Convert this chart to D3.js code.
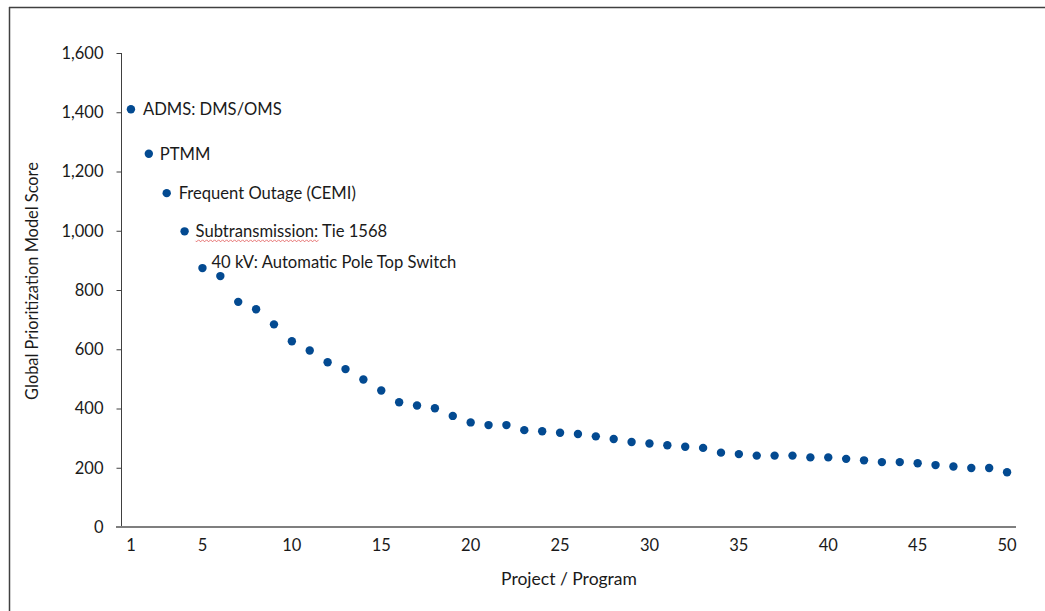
<!DOCTYPE html>
<html>
<head>
<meta charset="utf-8">
<script src="https://cdn.jsdelivr.net/npm/d3@7"></script>
<style>
  html, body { margin: 0; padding: 0; background: #fff; }
  svg { display: block; font-family: Lato, "Open Sans", sans-serif; }
</style>
</head>
<body>
<svg id="chart" width="1045" height="611"></svg>
<script>
// ---- data ----
const projects = d3.range(1, 51);
const scores = [1410, 1260, 1127, 998, 874, 847, 760, 735, 684, 627,
                596, 556, 533, 498, 461, 421, 410, 401, 375, 353,
                344, 344, 327, 323, 318, 314, 306, 297, 287, 282,
                276, 271, 267, 251, 246, 241, 241, 241, 235, 235,
                230, 225, 219, 219, 215, 209, 204, 199, 199, 185];
const xTickLabels = [1, 5, 10, 15, 20, 25, 30, 35, 40, 45, 50];
const yTickValues = [0, 200, 400, 600, 800, 1000, 1200, 1400, 1600];
const labelProjects = [1, 2, 3, 4, 5];
const labelTexts = ["ADMS: DMS/OMS", "PTMM", "Frequent Outage (CEMI)", "Subtransmission: Tie 1568", "40 kV: Automatic Pole Top Switch"];

// ---- layout ----
const svg = d3.select("#chart");
const mLeft = 121, mRight = 1016, mTop = 53, mBottom = 527;
const dotColor = "#034a91";
const textColor = "#1a1a1a";
const labelDx = [12, 11, 12, 11, 9];

// outer border (top + left only visible)
svg.append("line").attr("x1", 9).attr("x2", 1045).attr("y1", 7.5).attr("y2", 7.5)
  .attr("stroke", "#404040").attr("stroke-width", 1.5);
svg.append("line").attr("x1", 9.5).attr("x2", 9.5).attr("y1", 7).attr("y2", 611)
  .attr("stroke", "#404040").attr("stroke-width", 1.5);

const x = d3.scaleBand().domain(projects).range([mLeft + 1, mRight]);
const y = d3.scaleLinear().domain([0, 1600]).range([mBottom, mTop]);
const cx = d => x(d) + x.bandwidth() / 2;

// y axis
const yAxis = svg.append("g").attr("transform", `translate(${mLeft + 0.5},0)`)
  .call(d3.axisLeft(y).tickValues(yTickValues).tickSize(5).tickPadding(13)
    .tickFormat(d3.format(",")));
yAxis.select(".domain").attr("stroke", "#404040").attr("d", `M0,${mTop}V${mBottom}`);
yAxis.selectAll(".tick line").attr("stroke", "#404040");
yAxis.selectAll(".tick text").attr("font-size", 16.5).attr("fill", textColor)
  .attr("font-family", "Lato, sans-serif");

// x axis
const xAxis = svg.append("g").attr("transform", `translate(0,${mBottom})`)
  .call(d3.axisBottom(x).tickValues(xTickLabels).tickSize(0).tickPadding(12));
xAxis.select(".domain").attr("stroke", "#7f7f7f").attr("stroke-width", 2)
  .attr("d", `M${mLeft - 5},0H${mRight}`);
xAxis.selectAll(".tick text").attr("font-size", 16.5).attr("fill", textColor)
  .attr("font-family", "Lato, sans-serif");

// axis titles
svg.append("text").attr("x", 569).attr("y", 585).attr("text-anchor", "middle")
  .attr("font-size", 17.5).attr("fill", textColor).text("Project / Program");
svg.append("text").attr("transform", `translate(38,281) rotate(-90)`)
  .attr("text-anchor", "middle").attr("font-size", 16.4).attr("fill", textColor)
  .text("Global Prioritization Model Score");

// dots
svg.append("g").selectAll("circle").data(projects).join("circle")
  .attr("cx", d => cx(d)).attr("cy", (d, i) => y(scores[i]))
  .attr("r", 4.2).attr("fill", dotColor);

// annotations
const ann = svg.append("g");
labelProjects.forEach((p, i) => {
  const dy = (p === 5) ? -6 : 0;
  const x0 = cx(p) + labelDx[i];
  const t = ann.append("text")
    .attr("x", x0).attr("y", y(scores[p - 1]) + dy)
    .attr("dy", "0.36em").attr("font-size", 16.6).attr("fill", textColor)
    .text(labelTexts[i]);
  if (p === 4) {
    // spell-check style wavy underline under the first word
    const node = t.node();
    const w = node.getSubStringLength(0, 16);
    const yy = y(scores[p - 1]) + 9.5;
    let dpath = `M${x0},${yy}`;
    for (let k = 0; k * 2 < w; k++) {
      dpath += `L${x0 + k * 2 + 1},${yy + (k % 2 ? -1 : 1)}`;
    }
    ann.append("path").attr("d", dpath).attr("fill", "none")
      .attr("stroke", "#e05050").attr("stroke-width", 0.8);
  }
});
</script>
</body>
</html>
